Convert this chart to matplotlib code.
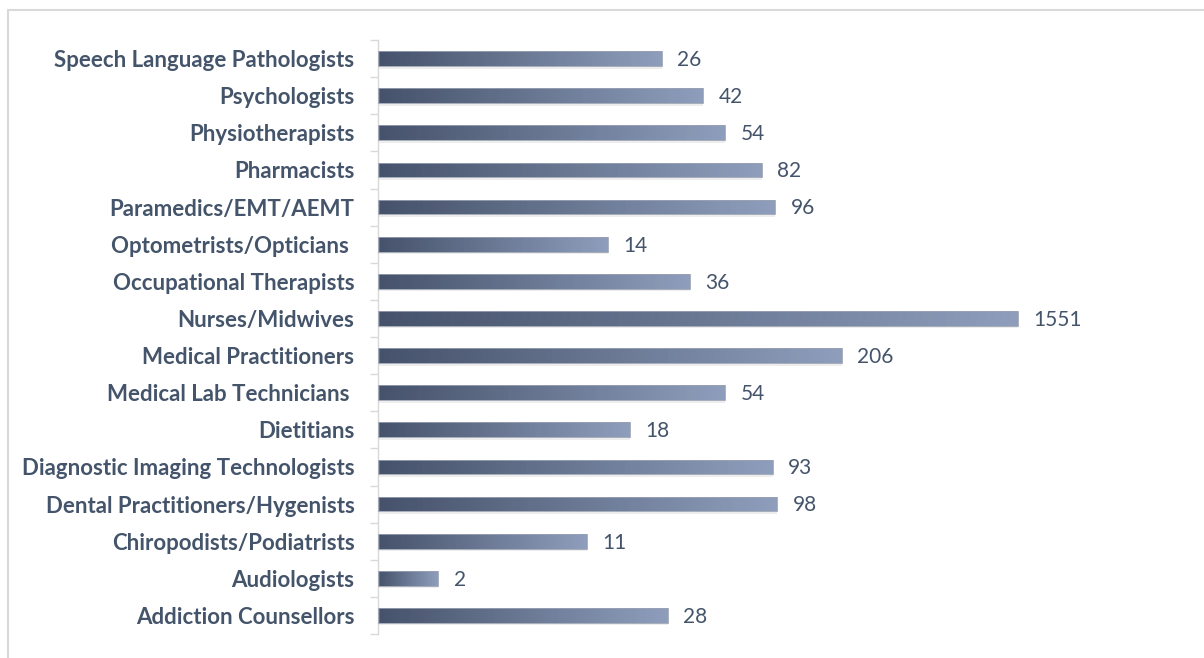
import matplotlib.pyplot as plt
import matplotlib.colors as mcolors
import numpy as np
from matplotlib.patches import Rectangle

# Data (bottom to top, as drawn)
professions = [
    "Addiction Counsellors",
    "Audiologists",
    "Chiropodists/Podiatrists",
    "Dental Practitioners/Hygenists",
    "Diagnostic Imaging Technologists",
    "Dietitians",
    "Medical Lab Technicians ",
    "Medical Practitioners",
    "Nurses/Midwives",
    "Occupational Therapists",
    "Optometrists/Opticians ",
    "Paramedics/EMT/AEMT",
    "Pharmacists",
    "Physiotherapists",
    "Psychologists",
    "Speech Language Pathologists",
]
counts = [28, 2, 11, 98, 93, 18, 54, 206, 1551, 36, 14, 96, 82, 54, 42, 26]

plt.rcParams['font.family'] = ['Lato', 'DejaVu Sans']

W, H = 1204, 658
fig = plt.figure(figsize=(W / 100, H / 100), dpi=100)
ax = fig.add_axes([378 / W, (H - 634) / H, (1180 - 378) / W, (634 - 40) / H])

# outer chart frame (only top and left edges visible)
fig.patches.append(Rectangle((8 / W, -0.1), 1.2, (H - 10) / H + 0.1,
                             transform=fig.transFigure, fill=False,
                             edgecolor='#d9d9d9', linewidth=1.5))

ax.set_xscale('log')
ax.set_xlim(1, 1e4)
ax.set_ylim(-0.5, len(professions) - 0.5)

cmap = mcolors.LinearSegmentedColormap.from_list('bar', ['#46526b', '#8d9dbb'])
bar_h = 0.4
n_seg = 80
y = np.arange(len(professions))
for yi, v in zip(y, counts):
    # soft shadow under the bar
    ax.barh(yi - 0.07, v - 1, left=1, height=bar_h, color='#000000', alpha=0.07,
            linewidth=0, zorder=1)
    edges = np.geomspace(1, v, n_seg + 1)
    for k in range(n_seg):
        ax.barh(yi, edges[k + 1] - edges[k], left=edges[k], height=bar_h,
                color=cmap(k / (n_seg - 1)), linewidth=0, zorder=2)
    ax.barh(yi, v - 1, left=1, height=bar_h, fill=False,
            edgecolor='#9aa3b3', linewidth=0.6, zorder=3)
    ax.annotate(str(v), xy=(v, yi), xytext=(11, -1), textcoords='offset points',
                va='center', ha='left', fontsize=15, color='#44546a')

ax.set_yticks(y)
ax.set_yticklabels(professions, fontsize=16, fontweight='bold', color='#44546a')
ax.set_yticks(np.arange(-0.5, len(professions), 1), minor=True)
ax.tick_params(axis='y', which='major', length=0, pad=17)
ax.tick_params(axis='y', which='minor', length=6, color='#d9d9d9', width=1)
ax.xaxis.set_visible(False)
for s in ['top', 'right', 'bottom']:
    ax.spines[s].set_visible(False)
ax.spines['left'].set_color('#d9d9d9')
ax.spines['left'].set_linewidth(1)

fig.savefig('out.png', dpi=100)
